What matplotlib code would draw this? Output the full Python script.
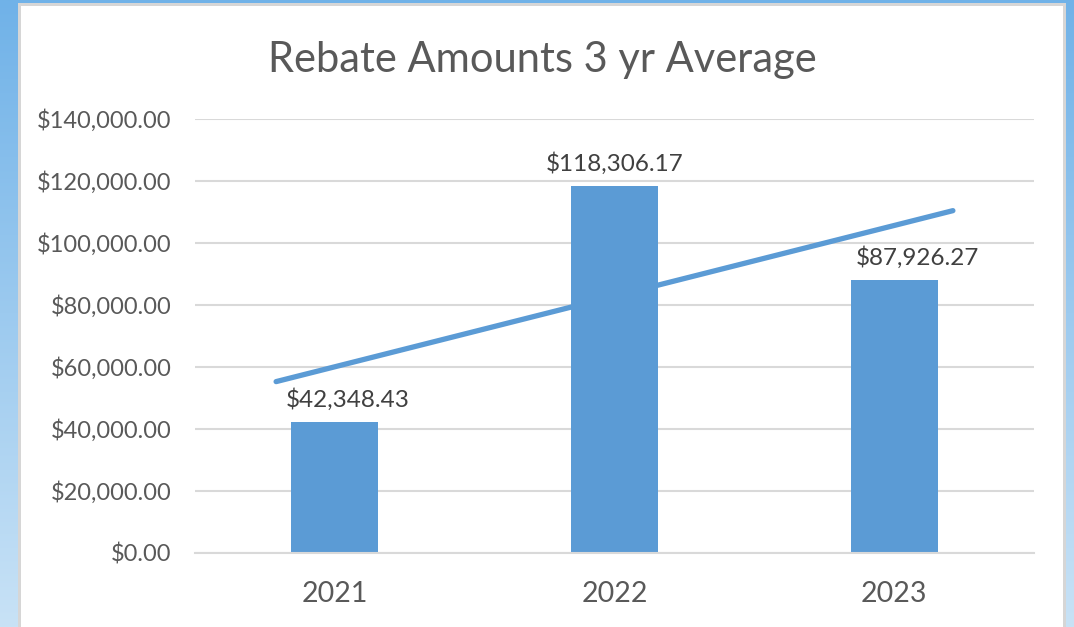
import matplotlib.pyplot as plt
import numpy as np
from matplotlib.patches import Rectangle

years = ["2021", "2022", "2023"]
rebates = [42348.43, 118306.17, 87926.27]
bar_labels = ["$42,348.43", "$118,306.17", "$87,926.27"]
y_ticks = [0, 20000, 40000, 60000, 80000, 100000, 120000, 140000]

BLUE = "#5B9BD5"
GREY_TEXT = "#595959"
GRID = "#D9D9D9"

plt.rcParams["font.family"] = ["Lato", "DejaVu Sans"]

fig = plt.figure(figsize=(10.74, 6.27), dpi=100)

# blue gradient backdrop
bg = fig.add_axes([0, 0, 1, 1], zorder=-10)
top = np.array([112, 178, 232]) / 255
bot = np.array([200, 226, 246]) / 255
t = np.linspace(0, 1, 256)[:, None]
grad = top + (bot - top) * t
bg.imshow(grad[:, None, :].repeat(2, axis=1), aspect="auto", extent=[0, 1, 0, 1])
bg.set_xlim(0, 1)
bg.set_ylim(0, 1)
bg.axis("off")

# white chart panel with grey edge
W, H = 1074, 627
bg.add_patch(Rectangle((18 / W, -0.01), (1066 - 18) / W, 1.01 - 3 / H,
                       facecolor="#D6D6D6", edgecolor="none", zorder=2))
bg.add_patch(Rectangle((21 / W, -0.01), (1063 - 21) / W, 1.01 - 6 / H,
                       facecolor="white", edgecolor="none", zorder=3))

ax = fig.add_axes([195 / W, 1 - 553 / H, (1034 - 195) / W, (553 - 119) / H])
ax.patch.set_alpha(0)
x = np.arange(len(years))
ax.bar(x, rebates, width=0.31, color=BLUE, zorder=2)

# linear trendline, as in the spreadsheet
slope, icpt = np.polyfit(x, rebates, 1)
tx = np.array([-0.21, 2.21])
ax.plot(tx, slope * tx + icpt, color=BLUE, lw=3.8, solid_capstyle="round", zorder=3)

# labels were nudged sideways in the original to clear the trendline
label_dx = [9, 0, 17]
for xi, v, lab, dx in zip(x, rebates, bar_labels, label_dx):
    ax.annotate(lab, (xi, v), xytext=(dx, 8), textcoords="offset points",
                ha="center", va="bottom", fontsize=17.5, color="#404040")

ax.set_xlim(-0.5, 2.5)
ax.set_ylim(0, 140000)
ax.set_yticks(y_ticks)
ax.set_yticklabels([f"${v:,.2f}" for v in y_ticks])
ax.set_xticks(x)
ax.set_xticklabels(years)
ax.tick_params(axis="y", length=0, pad=17, labelsize=17, labelcolor=GREY_TEXT)
ax.tick_params(axis="x", length=0, pad=20, labelsize=20.5, labelcolor=GREY_TEXT)
ax.grid(axis="y", color=GRID, lw=1.5, zorder=0)
for s in ["top", "right", "left"]:
    ax.spines[s].set_visible(False)
ax.spines["bottom"].set_color(GRID)
ax.spines["bottom"].set_linewidth(1.5)

fig.text(542 / W, 1 - 60 / H, "Rebate Amounts 3 yr Average", ha="center", va="center",
         fontsize=30, color=GREY_TEXT)

fig.savefig("out.png", dpi=100)
